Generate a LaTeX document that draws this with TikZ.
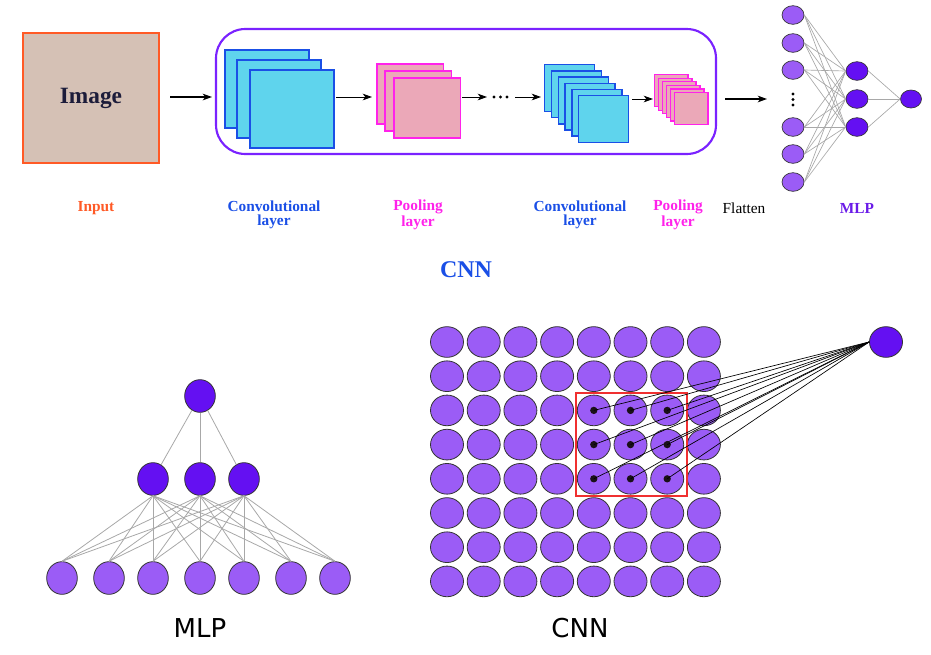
\documentclass[tikz,border=0pt]{standalone}
\usepackage{fontspec}
\setmainfont{Liberation Serif}
\newfontfamily\dejavu{DejaVu Sans}
\usetikzlibrary{arrows.meta,shapes.geometric}
\definecolor{imgfill}{HTML}{D5C1B5}
\definecolor{imgborder}{HTML}{FF5A26}
\definecolor{imgtext}{HTML}{1C1C3A}
\definecolor{convfill}{HTML}{5FD4ED}
\definecolor{convborder}{HTML}{1A4FE6}
\definecolor{poolfill}{HTML}{EBA8B8}
\definecolor{poolborder}{HTML}{FF22EA}
\definecolor{frame}{HTML}{7A22FF}
\definecolor{lightv}{HTML}{9B5CF6}
\definecolor{darkv}{HTML}{6410F2}
\definecolor{mlptext}{HTML}{6A1BE8}
\definecolor{edgegrey}{HTML}{A8A8A8}
\definecolor{redbox}{HTML}{F03030}
\definecolor{dotc}{HTML}{1A1018}
\tikzset{
  conv/.style={draw=convborder, fill=convfill, line width=1.4pt, inner sep=0pt, anchor=north west},
  pool/.style={draw=poolborder, fill=poolfill, line width=1.2pt, inner sep=0pt, anchor=north west},
  arr/.style={-{Stealth[length=7pt,width=5pt,inset=2pt]}, line width=0.9pt},
  lbl/.style={font=\fontsize{11.5}{10.5}\selectfont\bfseries, align=center},
  tin/.style={ellipse, draw=black!80, line width=0.5pt, fill=lightv, inner sep=0pt, minimum width=16.5pt, minimum height=14pt},
  thid/.style={ellipse, draw=black!80, line width=0.5pt, fill=darkv, inner sep=0pt, minimum width=16.5pt, minimum height=14pt},
  tedge/.style={draw=edgegrey, line width=0.5pt},
  vdot/.style={circle, fill=black, inner sep=0pt, minimum size=2.4pt},
  bin/.style={ellipse, draw=black!80, line width=0.6pt, fill=lightv, inner sep=0pt, minimum width=23pt, minimum height=24.5pt},
  bhid/.style={ellipse, draw=black!80, line width=0.6pt, fill=darkv, inner sep=0pt, minimum width=23pt, minimum height=24.5pt},
  cell/.style={ellipse, draw=black!80, line width=0.6pt, fill=lightv, inner sep=0pt, minimum width=24.75pt, minimum height=23pt},
  cout/.style={ellipse, draw=black!80, line width=0.6pt, fill=darkv, inner sep=0pt, minimum width=24.75pt, minimum height=23pt},
  kdot/.style={circle, fill=dotc, inner sep=0pt, minimum size=5.5pt},
}
\begin{document}
\begin{tikzpicture}[x=0.75pt,y=-0.75pt]
\useasboundingbox (0,0) rectangle (931,654);
% ---------- top: CNN pipeline ----------
\node[draw=imgborder, fill=imgfill, line width=2pt, minimum width=102pt, minimum height=97.5pt, inner sep=0pt] (img) at (91,98)
  {\textcolor{imgtext}{\fontsize{17.5}{20}\selectfont\bfseries Image}};
\draw[frame, line width=1.6pt, rounded corners=22pt] (216,29) rectangle (716,154);
\coordinate (a0s) at (170,97);
\coordinate (a0e) at (212,97);
\draw[arr] (a0s) -- (a0e);
% conv stack 1
\node[conv, minimum width=63pt, minimum height=58.5pt] (c1a) at (224,49) {};
\node[conv, minimum width=63pt, minimum height=58.5pt] (c1b) at (236,59) {};
\node[conv, minimum width=63pt, minimum height=58.5pt] (c1c) at (249,69) {};
% pool stack 1
\node[pool, minimum width=50pt, minimum height=45pt] (p1a) at (376,63) {};
\node[pool, minimum width=50pt, minimum height=45pt] (p1b) at (384,70) {};
\node[pool, minimum width=50pt, minimum height=45pt] (p1c) at (393,77) {};
\coordinate (a1s) at (336,97);
\coordinate (a1e) at (372,97);
\draw[arr, line width=0.7pt] (a1s) -- (a1e);
\coordinate (a2s) at (462,97);
\coordinate (a2e) at (487,97);
\draw[arr, line width=0.7pt] (a2s) -- (a2e);
\foreach \k/\x in {1/494,2/500.5,3/507}{
  \node[vdot, minimum size=2.6pt] (hd\k) at (\x,97) {};
}
\coordinate (a3s) at (515,97);
\coordinate (a3e) at (541,97);
\draw[arr, line width=0.7pt] (a3s) -- (a3e);
% conv stack 2
\foreach \i in {0,...,5}{
  \node[conv, line width=1.1pt, minimum width=37.5pt, minimum height=35pt] (c2\i) at ({544+6.8*\i},{64+6.2*\i}) {};
}
\coordinate (a4s) at (632,99);
\coordinate (a4e) at (653,99);
\draw[arr, line width=0.7pt] (a4s) -- (a4e);
% pool stack 2
\foreach \i in {0,...,5}{
  \node[pool, line width=0.9pt, minimum width=25pt, minimum height=24pt] (p2\i) at ({654+4*\i},{74+3.6*\i}) {};
}
\coordinate (a5s) at (725,99);
\coordinate (a5e) at (767,99);
\draw[arr] (a5s) -- (a5e);
% top MLP
\foreach \n/\y in {1/15,2/43,3/70,4/127,5/154,6/182}{
  \node[tin] (ti\n) at (793,\y) {};
}
\foreach \k/\y in {1/94,2/99.5,3/105}{
  \node[vdot] (vd\k) at (793,\y) {};
}
\foreach \n/\y in {1/71,2/99,3/127}{
  \node[thid] (th\n) at (857,\y) {};
}
\node[thid, minimum width=15.75pt, minimum height=13.5pt] (to) at (911,99) {};
\foreach \i in {1,...,6}{
  \foreach \j in {1,2,3}{
    \draw[tedge] (ti\i.east) -- (th\j.west);
  }
}
\foreach \j in {1,2,3}{ \draw[tedge] (th\j.east) -- (to.west); }
% labels
\node[lbl, text=imgborder] (lin) at (96,208) {Input};
\node[lbl, text=convborder] (lc1) at (274,215) {Convolutional\\layer};
\node[lbl, text=poolborder] (lp1) at (418,215) {Pooling\\layer};
\node[lbl, text=convborder] (lc2) at (580,215) {Convolutional\\layer};
\node[lbl, text=poolborder] (lp2) at (678,215) {Pooling\\layer};
\node[font=\fontsize{11.5}{12}\selectfont] (lfl) at (744,208) {Flatten};
\node[lbl, text=mlptext] (lmlp) at (857,208) {MLP};
\node[font=\fontsize{18}{20}\selectfont\bfseries, text=convborder] (lcnn) at (466,270) {CNN};
% ---------- bottom left: MLP ----------
\node[bhid] (mo) at (200,396) {};
\foreach \n/\x in {1/153,2/200,3/244}{
  \node[bhid] (mh\n) at (\x,479) {};
}
\foreach \n/\x in {1/62,2/109,3/153,4/200,5/244,6/291,7/335}{
  \node[bin] (mi\n) at (\x,578) {};
}
\foreach \j in {1,2,3}{ \draw[tedge, line width=0.6pt] (mo) -- (mh\j); }
\foreach \j in {1,2,3}{
  \foreach \i in {1,...,7}{
    \draw[tedge, line width=0.6pt] (mh\j.south) -- (mi\i.north);
  }
}
\node[font=\dejavu\fontsize{19.5}{20}\selectfont] (tmlp) at (200,628) {MLP};
% ---------- bottom right: CNN ----------
\foreach \i in {0,...,7}{
  \foreach \j in {0,...,7}{
    \node[cell] (g\i\j) at ({447+36.7*\i},{342+34.2*\j}) {};
  }
}
\draw[redbox, line width=1.5pt] (576,393) rectangle (687,496);
\node[cout] (co) at (886,342) {};
\foreach \i in {4,5,6}{
  \foreach \j in {2,3,4}{
    \node[kdot] (k\i\j) at (g\i\j.center) {};
    \draw[black, line width=0.5pt] (k\i\j.center) -- (co.west);
  }
}
\node[font=\dejavu\fontsize{19.5}{20}\selectfont] (tcnn) at (580,628) {CNN};
\end{tikzpicture}
\end{document}
